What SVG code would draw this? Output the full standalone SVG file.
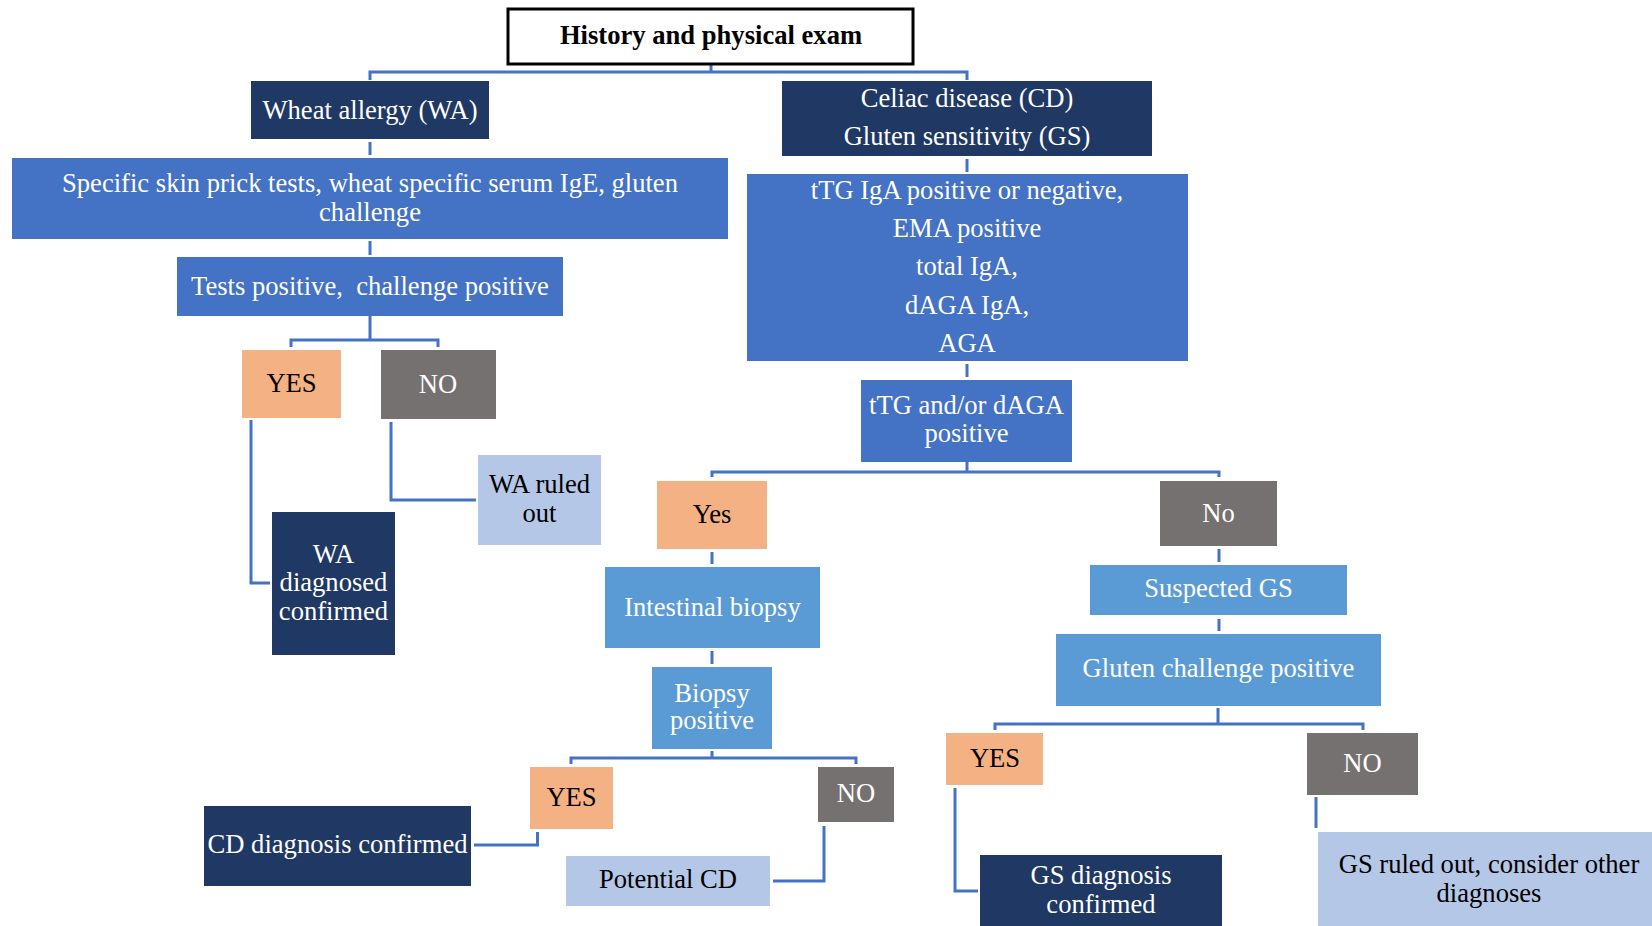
<svg xmlns="http://www.w3.org/2000/svg" width="1652" height="926" viewBox="0 0 1652 926">
<style>
text{font-family:"Liberation Serif","Times New Roman",serif;font-size:26.6px;text-anchor:middle;white-space:pre}
.w{fill:#ffffff}.k{fill:#000000}
.navy{fill:#203864}.mid{fill:#4472C4}.lt{fill:#5B9BD5}.pale{fill:#B4C7E7}.peach{fill:#F4B183}.gray{fill:#767171}
.c{fill:none;stroke:#4472C4;stroke-width:3}
</style>
<g id="connectors">
<path class="c" d="M711 64V72M370 80V72H967V80"/>
<path class="c" d="M370 142V155"/>
<path class="c" d="M370 241V255"/>
<path class="c" d="M370 316V340M291 347V340H438V347"/>
<path class="c" d="M251 420V583H270"/>
<path class="c" d="M391 422V500H476"/>
<path class="c" d="M967 159V172"/>
<path class="c" d="M967 364V377"/>
<path class="c" d="M967 462V472M712 477V472H1219V477"/>
<path class="c" d="M712 552V564"/>
<path class="c" d="M712 651V664"/>
<path class="c" d="M712 751V758M571 764V758H856V764"/>
<path class="c" d="M537.5 832V845H474"/>
<path class="c" d="M824 826V881H773"/>
<path class="c" d="M1219 549V562"/>
<path class="c" d="M1219 619V631"/>
<path class="c" d="M1218 708V724M995 730V724H1363V730"/>
<path class="c" d="M955 788V891H978"/>
<path class="c" d="M1316 797V828"/>
</g>
<g id="n-history"><rect x="508" y="9" width="405" height="55" fill="#ffffff" stroke="#000000" stroke-width="3"/><text class="k" x="711" y="44" font-weight="bold">History and physical exam</text></g>
<g id="n-wa"><rect class="navy" x="251" y="81" width="238" height="58"/><text class="w" x="370" y="119">Wheat allergy (WA)</text></g>
<g id="n-skin"><rect class="mid" x="12" y="158" width="716" height="81"/><text class="w" x="370" y="192">Specific skin prick tests, wheat specific serum IgE, gluten</text><text class="w" x="370" y="221">challenge</text></g>
<g id="n-tests"><rect class="mid" x="177" y="257" width="386" height="59"/><text class="w" x="370" y="295">Tests positive,  challenge positive</text></g>
<g id="n-wa-yes"><rect class="peach" x="242" y="350" width="99" height="68"/><text class="k" x="291.5" y="392">YES</text></g>
<g id="n-wa-no"><rect class="gray" x="381" y="350" width="115" height="69"/><text class="w" x="438" y="393">NO</text></g>
<g id="n-wa-out"><rect class="pale" x="478" y="455" width="123" height="90"/><text class="k" x="539.5" y="493">WA ruled</text><text class="k" x="539.5" y="522">out</text></g>
<g id="n-wa-conf"><rect class="navy" x="272" y="512" width="123" height="143"/><text class="w" x="333.5" y="563">WA</text><text class="w" x="333.5" y="591">diagnosed</text><text class="w" x="333.5" y="620">confirmed</text></g>
<g id="n-cdgs"><rect class="navy" x="782" y="81" width="370" height="75"/><text class="w" x="967" y="107">Celiac disease (CD)</text><text class="w" x="967" y="145">Gluten sensitivity (GS)</text></g>
<g id="n-ttg"><rect class="mid" x="747" y="174" width="441" height="187"/><text class="w" x="967" y="199">tTG IgA positive or negative,</text><text class="w" x="967" y="237">EMA positive</text><text class="w" x="967" y="275">total IgA,</text><text class="w" x="967" y="314">dAGA IgA,</text><text class="w" x="967" y="352">AGA</text></g>
<g id="n-ttgdaga"><rect class="mid" x="861" y="380" width="211" height="82"/><text class="w" x="966.5" y="414">tTG and/or dAGA</text><text class="w" x="966.5" y="442">positive</text></g>
<g id="n-yes"><rect class="peach" x="657" y="481" width="110" height="68"/><text class="k" x="712" y="523">Yes</text></g>
<g id="n-no"><rect class="gray" x="1160" y="481" width="117" height="65"/><text class="w" x="1218.5" y="522">No</text></g>
<g id="n-biopsy"><rect class="lt" x="605" y="567" width="215" height="81"/><text class="w" x="712.5" y="616">Intestinal biopsy</text></g>
<g id="n-biopos"><rect class="lt" x="652" y="667" width="120" height="82"/><text class="w" x="712" y="702">Biopsy</text><text class="w" x="712" y="729">positive</text></g>
<g id="n-cd-yes"><rect class="peach" x="530" y="767" width="83" height="62"/><text class="k" x="571.5" y="806">YES</text></g>
<g id="n-cd-no"><rect class="gray" x="818" y="767" width="76" height="55"/><text class="w" x="856" y="802">NO</text></g>
<g id="n-cd-conf"><rect class="navy" x="204" y="806" width="267" height="80"/><text class="w" x="337.5" y="853">CD diagnosis confirmed</text></g>
<g id="n-cd-pot"><rect class="pale" x="566" y="856" width="204" height="50"/><text class="k" x="668" y="888">Potential CD</text></g>
<g id="n-susgs"><rect class="lt" x="1090" y="565" width="257" height="50"/><text class="w" x="1218.5" y="597">Suspected GS</text></g>
<g id="n-glch"><rect class="lt" x="1056" y="634" width="325" height="72"/><text class="w" x="1218.5" y="677">Gluten challenge positive</text></g>
<g id="n-gs-yes"><rect class="peach" x="946" y="733" width="97" height="52"/><text class="k" x="995" y="767">YES</text></g>
<g id="n-gs-no"><rect class="gray" x="1307" y="733" width="111" height="62"/><text class="w" x="1362.5" y="772">NO</text></g>
<g id="n-gs-conf"><rect class="navy" x="980" y="855" width="242" height="71"/><text class="w" x="1101" y="884">GS diagnosis</text><text class="w" x="1101" y="913">confirmed</text></g>
<g id="n-gs-out"><rect class="pale" x="1318" y="832" width="334" height="94"/><text class="k" x="1489" y="873">GS ruled out, consider other</text><text class="k" x="1489" y="902">diagnoses</text></g>
</svg>
